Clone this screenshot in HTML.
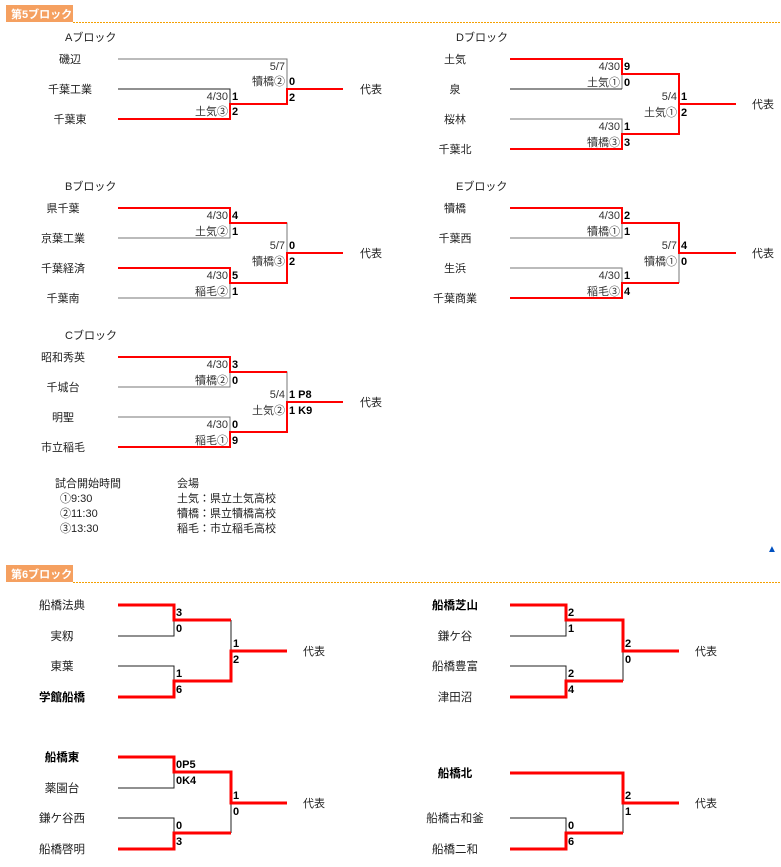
<!DOCTYPE html>
<html><head><meta charset="utf-8"><style>
html,body{margin:0;padding:0;background:#fff;width:781px;height:867px;overflow:hidden}
svg{display:block;font-family:"Liberation Sans","Noto Sans CJK JP",sans-serif}
.n{font-size:11px;fill:#222;text-anchor:middle}
.n6{font-size:11.5px;fill:#222;text-anchor:middle}
.b{font-weight:bold;fill:#000}
.r{font-size:11px;fill:#333;text-anchor:end}
.s{font-size:11px;fill:#000;font-weight:bold}
.t{font-size:11px;fill:#222}
.g{fill:none;stroke:#777;stroke-width:1}
.k{fill:none;stroke:#222;stroke-width:1}
.red{fill:none;stroke:#f00;stroke-width:2}
.red3{fill:none;stroke:#f00;stroke-width:3}
</style></head><body>
<svg width="781" height="867" viewBox="0 0 781 867">
<rect x="6" y="5" width="67" height="17" fill="#f5a060"/>
<text x="11" y="18" style="font-size:11px;font-weight:bold;fill:#fff">第5ブロック</text>
<line x1="73" y1="22.5" x2="781" y2="22.5" stroke="#f5a000" stroke-width="1" stroke-dasharray="2,1"/>
<rect x="6" y="565" width="67" height="17" fill="#f5a060"/>
<text x="11" y="578" style="font-size:11px;font-weight:bold;fill:#fff">第6ブロック</text>
<line x1="73" y1="582.5" x2="781" y2="582.5" stroke="#f5a000" stroke-width="1" stroke-dasharray="2,1"/>

<text class="t" x="65" y="41">Aブロック</text>
<text class="n" x="70" y="63">磯辺</text><text class="n" x="70" y="93">千葉工業</text><text class="n" x="70" y="123">千葉東</text>
<path class="g" d="M118 59H287V104"/><path class="k" d="M118 89H230V119"/>
<path class="red" d="M118 119H230V104H287V89H343"/>
<text class="r" x="228" y="100">4/30</text><text class="r" x="228" y="115">土気③</text>
<text class="s" x="232" y="100">1</text><text class="s" x="232" y="115">2</text>
<text class="r" x="285" y="70">5/7</text><text class="r" x="285" y="85">犢橋②</text>
<text class="s" x="289" y="85">0</text><text class="s" x="289" y="101">2</text>
<text class="t" x="360" y="93">代表</text>

<text class="t" x="456" y="41">Dブロック</text>
<text class="n" x="455" y="63">土気</text><text class="n" x="455" y="93">泉</text><text class="n" x="455" y="123">桜林</text><text class="n" x="455" y="153">千葉北</text>
<path class="g" d="M622 59V89"/><path class="k" d="M510 89H622"/><path class="g" d="M510 119H622V149M622 74H679V134H622"/>
<path class="red" d="M510 59H622V74H679V104H736M510 149H622V134H679V104"/>
<text class="r" x="620" y="70">4/30</text><text class="r" x="620" y="86">土気①</text>
<text class="s" x="624" y="70">9</text><text class="s" x="624" y="86">0</text>
<text class="r" x="620" y="130">4/30</text><text class="r" x="620" y="146">犢橋③</text>
<text class="s" x="624" y="130">1</text><text class="s" x="624" y="146">3</text>
<text class="r" x="677" y="100">5/4</text><text class="r" x="677" y="116">土気①</text>
<text class="s" x="681" y="100">1</text><text class="s" x="681" y="116">2</text>
<text class="t" x="752" y="108">代表</text>

<text class="t" x="65" y="190">Bブロック</text>
<text class="n" x="63" y="212">県千葉</text><text class="n" x="63" y="242">京葉工業</text><text class="n" x="63" y="272">千葉経済</text><text class="n" x="63" y="302">千葉南</text>
<path class="g" d="M118 238H230V208M230 223H287V283M118 298H230V268"/>
<path class="red" d="M118 208H230V223H287M118 268H230V283H287V253H343"/>
<text class="r" x="228" y="219">4/30</text><text class="r" x="228" y="235">土気②</text>
<text class="s" x="232" y="219">4</text><text class="s" x="232" y="235">1</text>
<text class="r" x="228" y="279">4/30</text><text class="r" x="228" y="295">稲毛②</text>
<text class="s" x="232" y="279">5</text><text class="s" x="232" y="295">1</text>
<text class="r" x="285" y="249">5/7</text><text class="r" x="285" y="265">犢橋③</text>
<text class="s" x="289" y="249">0</text><text class="s" x="289" y="265">2</text>
<text class="t" x="360" y="257">代表</text>

<text class="t" x="456" y="190">Eブロック</text>
<text class="n" x="455" y="212">犢橋</text><text class="n" x="455" y="242">千葉西</text><text class="n" x="455" y="272">生浜</text><text class="n" x="455" y="302">千葉商業</text>
<path class="g" d="M510 238H622V208M622 223H679V283M510 268H622V298"/>
<path class="red" d="M510 208H622V223H679V253H736M510 298H622V283H679"/>
<text class="r" x="620" y="219">4/30</text><text class="r" x="620" y="235">犢橋①</text>
<text class="s" x="624" y="219">2</text><text class="s" x="624" y="235">1</text>
<text class="r" x="620" y="279">4/30</text><text class="r" x="620" y="295">稲毛③</text>
<text class="s" x="624" y="279">1</text><text class="s" x="624" y="295">4</text>
<text class="r" x="677" y="249">5/7</text><text class="r" x="677" y="265">犢橋①</text>
<text class="s" x="681" y="249">4</text><text class="s" x="681" y="265">0</text>
<text class="t" x="752" y="257">代表</text>

<text class="t" x="65" y="339">Cブロック</text>
<text class="n" x="63" y="361">昭和秀英</text><text class="n" x="63" y="391">千城台</text><text class="n" x="63" y="421">明聖</text><text class="n" x="63" y="451">市立稲毛</text>
<path class="g" d="M118 387H230V357M230 372H287V432M118 417H230V447"/>
<path class="red" d="M118 357H230V372H287M118 447H230V432H287V402H343"/>
<text class="r" x="228" y="368">4/30</text><text class="r" x="228" y="384">犢橋②</text>
<text class="s" x="232" y="368">3</text><text class="s" x="232" y="384">0</text>
<text class="r" x="228" y="428">4/30</text><text class="r" x="228" y="444">稲毛①</text>
<text class="s" x="232" y="428">0</text><text class="s" x="232" y="444">9</text>
<text class="r" x="285" y="398">5/4</text><text class="r" x="285" y="414">土気②</text>
<text class="s" x="289" y="398">1 P8</text><text class="s" x="289" y="414">1 K9</text>
<text class="t" x="360" y="406">代表</text>

<text class="t" x="55" y="487">試合開始時間</text>
<text class="t" x="60" y="502">①9:30</text><text class="t" x="60" y="517">②11:30</text><text class="t" x="60" y="532">③13:30</text>
<text class="t" x="177" y="487">会場</text>
<text class="t" x="177" y="502">土気：県立土気高校</text><text class="t" x="177" y="517">犢橋：県立犢橋高校</text><text class="t" x="177" y="532">稲毛：市立稲毛高校</text>
<text x="767" y="552" style="font-size:10px;fill:#0050c0">▲</text>

<text class="n6" x="62" y="609">船橋法典</text><text class="n6" x="62" y="640">実籾</text><text class="n6" x="62" y="670">東葉</text><text class="n6 b" x="62" y="701">学館船橋</text>
<path class="k" d="M118 636H174V605M118 666H174V697M231 620V681"/>
<path class="red3" d="M118 605H174V620H231M118 697H174V681H231V651H287"/>
<text class="s" x="176" y="616">3</text><text class="s" x="176" y="632">0</text>
<text class="s" x="176" y="677">1</text><text class="s" x="176" y="693">6</text>
<text class="s" x="233" y="647">1</text><text class="s" x="233" y="663">2</text>
<text class="t" x="303" y="655">代表</text>

<text class="n6 b" x="455" y="609">船橋芝山</text><text class="n6" x="455" y="640">鎌ケ谷</text><text class="n6" x="455" y="670">船橋豊富</text><text class="n6" x="455" y="701">津田沼</text>
<path class="k" d="M510 636H566V605M510 666H566V697M623 620V681"/>
<path class="red3" d="M510 605H566V620H623V651H679M510 697H566V681H623"/>
<text class="s" x="568" y="616">2</text><text class="s" x="568" y="632">1</text>
<text class="s" x="568" y="677">2</text><text class="s" x="568" y="693">4</text>
<text class="s" x="625" y="647">2</text><text class="s" x="625" y="663">0</text>
<text class="t" x="695" y="655">代表</text>

<text class="n6 b" x="62" y="761">船橋東</text><text class="n6" x="62" y="792">薬園台</text><text class="n6" x="62" y="822">鎌ケ谷西</text><text class="n6" x="62" y="853">船橋啓明</text>
<path class="k" d="M118 788H174V757M118 818H174V849M231 772V833"/>
<path class="red3" d="M118 757H174V772H231V803H287M118 849H174V833H231"/>
<text class="s" x="176" y="768">0P5</text><text class="s" x="176" y="784">0K4</text>
<text class="s" x="176" y="829">0</text><text class="s" x="176" y="845">3</text>
<text class="s" x="233" y="799">1</text><text class="s" x="233" y="815">0</text>
<text class="t" x="303" y="807">代表</text>

<text class="n6 b" x="455" y="777">船橋北</text><text class="n6" x="455" y="822">船橋古和釜</text><text class="n6" x="455" y="853">船橋二和</text>
<path class="k" d="M510 818H566V849M623 773V833"/>
<path class="red3" d="M510 773H623V803H679M510 849H566V833H623"/>
<text class="s" x="568" y="829">0</text><text class="s" x="568" y="845">6</text>
<text class="s" x="625" y="799">2</text><text class="s" x="625" y="815">1</text>
<text class="t" x="695" y="807">代表</text>
</svg>
</body></html>
